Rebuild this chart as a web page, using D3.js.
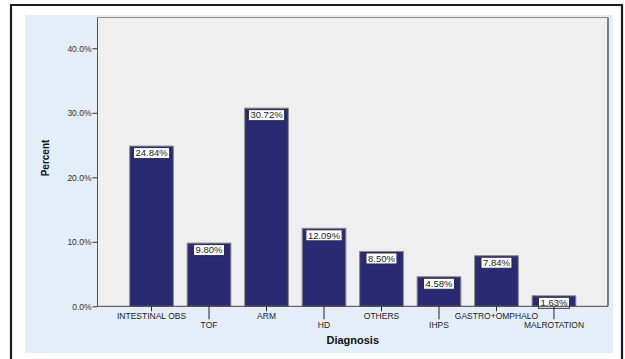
<!DOCTYPE html>
<html>
<head>
<meta charset="utf-8">
<script src="https://cdn.jsdelivr.net/npm/d3@7"></script>
<style>
  html, body { margin: 0; padding: 0; background: #ffffff; }
  svg { display: block; }
</style>
</head>
<body>
<script>
// Diagnosis distribution (percent of cases)
const categories = ["INTESTINAL OBS", "TOF", "ARM", "HD", "OTHERS", "IHPS", "GASTRO+OMPHALO", "MALROTATION"];
const percents = [24.84, 9.80, 30.72, 12.09, 8.50, 4.58, 7.84, 1.63];
const yTicks = [0, 10, 20, 30, 40];

const W = 625, H = 359;
const plot = { left: 97.5, right: 608, top: 17.5, bottom: 306.3 };

const svg = d3.select("body").append("svg")
  .attr("width", W).attr("height", H);

// outer frame
svg.append("path")
  .attr("d", `M11,${H} L11,5 L622,5 L622,${H}`)
  .attr("fill", "none").attr("stroke", "#1e1e1e").attr("stroke-width", 2.2);

// chart panel
svg.append("rect")
  .attr("x", 25).attr("y", 15).attr("width", 588).attr("height", 338)
  .attr("fill", "#e3eef9");

// plot background
svg.append("rect")
  .attr("x", plot.left).attr("y", plot.top)
  .attr("width", plot.right - plot.left).attr("height", plot.bottom - plot.top)
  .attr("fill", "#efefef");

const y = d3.scaleLinear()
  .domain([0, (plot.bottom - plot.top) / ((plot.bottom - 48.3) / 40)])
  .range([plot.bottom, plot.top]);

const x = d3.scaleBand()
  .domain(categories)
  .range([plot.left, plot.right])
  .paddingInner(0.24)
  .paddingOuter(0.56);

// plot frame: right side drawn darker
svg.append("line")
  .attr("x1", plot.right).attr("x2", plot.right)
  .attr("y1", plot.top).attr("y2", plot.bottom)
  .attr("stroke", "#7d7d7d").attr("stroke-width", 2);
svg.append("line")
  .attr("x1", plot.left).attr("x2", plot.right)
  .attr("y1", plot.top).attr("y2", plot.top)
  .attr("stroke", "#8c8c8c").attr("stroke-width", 1.2);

// bars
svg.append("g").selectAll("rect")
  .data(categories)
  .join("rect")
  .attr("x", d => x(d))
  .attr("y", (d, i) => y(percents[i]))
  .attr("width", x.bandwidth())
  .attr("height", (d, i) => y(0) - y(percents[i]))
  .attr("fill", "#292a72")
  .attr("stroke", "#8a8a8a")
  .attr("stroke-width", 1);

// value labels
const labels = svg.append("g").attr("font-family", "Arial, 'Liberation Sans', sans-serif")
  .attr("font-size", 9.5);
categories.forEach((c, i) => {
  const cx = x(c) + x.bandwidth() / 2;
  const top = y(percents[i]) + 1.5;
  const txt = percents[i].toFixed(2) + "%";
  const g = labels.append("g");
  const t = g.append("text")
    .attr("x", cx).attr("y", top + 8.7)
    .attr("text-anchor", "middle")
    .attr("fill", "#1a1a1a")
    .text(txt);
  const w = t.node().getComputedTextLength() + 4;
  g.insert("rect", "text")
    .attr("x", cx - w / 2).attr("y", top)
    .attr("width", w).attr("height", 11)
    .attr("fill", "#ffffff")
    .attr("stroke", "#2a2a4a").attr("stroke-width", 1);
});

// y axis
const yAxis = svg.append("g")
  .attr("transform", `translate(${plot.left},0)`)
  .call(d3.axisLeft(y).tickValues(yTicks).tickSize(5).tickPadding(1)
    .tickFormat(d => d.toFixed(1) + "%"));
yAxis.select(".domain").attr("stroke", "#555555").attr("d", `M0,${plot.top}V${plot.bottom}`);
yAxis.selectAll(".tick line").attr("stroke", "#333333");
yAxis.selectAll(".tick text")
  .attr("font-family", "Arial, 'Liberation Sans', sans-serif")
  .attr("font-size", 8.5).attr("fill", "#333333");

// x axis with staggered labels
const xAxis = svg.append("g")
  .attr("transform", `translate(0,${plot.bottom})`)
  .call(d3.axisBottom(x).tickSize(0).tickPadding(0));
xAxis.select(".domain").attr("stroke", "#444444").attr("d", `M${plot.left},0H${plot.right}`);
xAxis.selectAll(".tick line")
  .attr("stroke", "#222222")
  .attr("y2", (d, i) => i % 2 === 0 ? 5 : 13);
xAxis.selectAll(".tick text")
  .attr("font-family", "Arial, 'Liberation Sans', sans-serif")
  .attr("font-size", 8.5).attr("fill", "#222222")
  .attr("dy", null)
  .attr("y", (d, i) => i % 2 === 0 ? 13 : 21.5);

// axis titles
svg.append("text")
  .attr("x", (plot.left + plot.right) / 2).attr("y", 344)
  .attr("text-anchor", "middle")
  .attr("font-family", "Arial, 'Liberation Sans', sans-serif")
  .attr("font-size", 11).attr("font-weight", "bold").attr("fill", "#111111")
  .text("Diagnosis");

svg.append("text")
  .attr("transform", "translate(49,158) rotate(-90)")
  .attr("text-anchor", "middle")
  .attr("font-family", "Arial, 'Liberation Sans', sans-serif")
  .attr("font-size", 10).attr("font-weight", "bold").attr("fill", "#111111")
  .text("Percent");
</script>
</body>
</html>
